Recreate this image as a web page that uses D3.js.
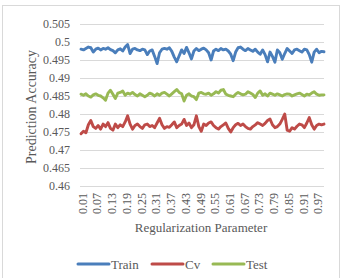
<!DOCTYPE html>
<html>
<head>
<meta charset="utf-8">
<script src="https://cdn.jsdelivr.net/npm/d3@7"></script>
<style>
  html, body { margin: 0; padding: 0; background: #fff; }
  svg text { font-family: "Liberation Serif", "Times New Roman", serif; fill: #595959; }
</style>
</head>
<body>
<div id="chart"></div>
<script>
// ---- data ----
const params = d3.range(1, 101).map(d => (d / 100).toFixed(2)); // 0.01 .. 1.00
const tickLabels = ['0.01', '0.07', '0.13', '0.19', '0.25', '0.31', '0.37', '0.43', '0.49',
  '0.55', '0.61', '0.67', '0.73', '0.79', '0.85', '0.91', '0.97'];
const yTicks = [0.46, 0.465, 0.47, 0.475, 0.48, 0.485, 0.49, 0.495, 0.5, 0.505];

const train = [
  0.4980, 0.4978, 0.4982, 0.4986, 0.4984, 0.4972, 0.4980, 0.4983, 0.4978, 0.4982,
  0.4980, 0.4984, 0.4979, 0.4976, 0.4970, 0.4978, 0.4981, 0.4975, 0.4986, 0.4993,
  0.4968, 0.4980, 0.4982, 0.4978, 0.4976, 0.4980, 0.4978, 0.4965, 0.4975, 0.4978,
  0.4960, 0.4940, 0.4970, 0.4980, 0.4982, 0.4980, 0.4984, 0.4974, 0.4958, 0.4945,
  0.4962, 0.4978, 0.4968, 0.4985, 0.4970, 0.4953, 0.4975, 0.4982, 0.4976, 0.4980,
  0.4983, 0.4978, 0.4970, 0.4950, 0.4975, 0.4980, 0.4976, 0.4982, 0.4978, 0.4980,
  0.4975, 0.4966, 0.4948, 0.4972, 0.4984, 0.4986, 0.4980, 0.4976, 0.4982, 0.4978,
  0.4974, 0.4980, 0.4972, 0.4966, 0.4978, 0.4965, 0.4945, 0.4972, 0.4960, 0.4944,
  0.4978, 0.4970, 0.4952, 0.4968, 0.4982, 0.4975, 0.4968, 0.4978, 0.4980, 0.4976,
  0.4972, 0.4980, 0.4978, 0.4965, 0.4944, 0.4972, 0.4980, 0.4970, 0.4974, 0.4973
];
const cv = [
  0.4745, 0.4752, 0.4748, 0.4770, 0.4782, 0.4765, 0.4760, 0.4768, 0.4758, 0.4772,
  0.4765, 0.4776, 0.4760, 0.4755, 0.4772, 0.4762, 0.4770, 0.4765, 0.4778, 0.4795,
  0.4772, 0.4758, 0.4768, 0.4772, 0.4765, 0.4760, 0.4770, 0.4772, 0.4765, 0.4768,
  0.4762, 0.4775, 0.4788, 0.4770, 0.4760, 0.4765, 0.4763, 0.4770, 0.4778, 0.4762,
  0.4768, 0.4772, 0.4785, 0.4768, 0.4775, 0.4762, 0.4770, 0.4795, 0.4765, 0.4752,
  0.4772, 0.4768, 0.4775, 0.4778, 0.4768, 0.4762, 0.4758, 0.4765, 0.4770, 0.4775,
  0.4760, 0.4750, 0.4762, 0.4770, 0.4774, 0.4768, 0.4772, 0.4765, 0.4760, 0.4758,
  0.4765, 0.4770, 0.4776, 0.4772, 0.4768, 0.4774, 0.4782, 0.4786, 0.4770, 0.4762,
  0.4765, 0.4772, 0.4785, 0.4800, 0.4755, 0.4752, 0.4762, 0.4758, 0.4766, 0.4772,
  0.4770, 0.4762, 0.4775, 0.4790, 0.4770, 0.4758, 0.4768, 0.4772, 0.4770, 0.4772
];
const test = [
  0.4855, 0.4852, 0.4856, 0.4850, 0.4847, 0.4853, 0.4856, 0.4852, 0.4850, 0.4845,
  0.4838, 0.4858, 0.4866, 0.4855, 0.4843, 0.4858, 0.4860, 0.4864, 0.4852, 0.4858,
  0.4855, 0.4860, 0.4854, 0.4850, 0.4856, 0.4852, 0.4848, 0.4852, 0.4858, 0.4855,
  0.4850, 0.4856, 0.4852, 0.4858, 0.4860, 0.4855, 0.4850, 0.4856, 0.4862, 0.4868,
  0.4860, 0.4856, 0.4836, 0.4852, 0.4856, 0.4850, 0.4848, 0.4840, 0.4858, 0.4860,
  0.4856, 0.4855, 0.4858, 0.4852, 0.4856, 0.4862, 0.4858, 0.4866, 0.4868, 0.4855,
  0.4852, 0.4850, 0.4848, 0.4855, 0.4860, 0.4856, 0.4853, 0.4855, 0.4862, 0.4858,
  0.4854, 0.4846, 0.4858, 0.4864, 0.4852, 0.4856, 0.4850, 0.4858, 0.4855, 0.4852,
  0.4856, 0.4853, 0.4850, 0.4854, 0.4856, 0.4855, 0.4850, 0.4853, 0.4856, 0.4858,
  0.4854, 0.4850, 0.4855, 0.4853, 0.4858, 0.4862, 0.4855, 0.4852, 0.4853, 0.4853
];
const seriesNames = ['Train', 'Cv', 'Test'];
const seriesColors = ['#4a7ebb', '#be4b48', '#98b954'];
const seriesData = [train, cv, test];

// ---- layout ----
const width = 341;
const height = 278;
const plot = { left: 80, right: 324, top: 24, bottom: 186 };

const svg = d3.select('#chart').append('svg')
  .attr('width', width)
  .attr('height', height);

// chart border
svg.append('rect')
  .attr('x', 2.5).attr('y', 5.5)
  .attr('width', 337).attr('height', 280)
  .attr('fill', '#fff')
  .attr('stroke', '#d9d9d9');

const x = d3.scalePoint().domain(params).range([plot.left + 1, plot.right]);
const y = d3.scaleLinear().domain([0.46, 0.505]).range([plot.bottom, plot.top]);

// gridlines
svg.append('g').selectAll('line')
  .data(yTicks)
  .enter().append('line')
  .attr('x1', plot.left).attr('x2', plot.right)
  .attr('y1', d => Math.round(y(d)) + 0.5)
  .attr('y2', d => Math.round(y(d)) + 0.5)
  .attr('stroke', '#d9d9d9')
  .attr('stroke-width', 1);

// y axis labels
const yAxis = svg.append('g')
  .attr('transform', `translate(${plot.left - 10},0)`)
  .attr('font-family', null)
  .call(d3.axisLeft(y).tickValues(yTicks).tickSize(0).tickFormat(d => d3.format('')(+d.toFixed(3))));
yAxis.select('.domain').remove();
yAxis.selectAll('text')
  .attr('x', 0)
  .style('font-size', '12px')
  .style('font-family', '"Liberation Serif", serif')
  .attr('fill', '#595959');

// x axis labels
const xAxis = svg.append('g')
  .attr('transform', `translate(1,${plot.bottom + 7})`)
  .call(d3.axisBottom(x).tickValues(tickLabels).tickSize(0));
xAxis.select('.domain').remove();
xAxis.selectAll('text')
  .attr('transform', 'rotate(-90)')
  .attr('x', 0).attr('y', 0)
  .attr('dx', 0).attr('dy', '0.35em')
  .attr('text-anchor', 'end')
  .style('font-size', '12px')
  .style('font-family', '"Liberation Serif", serif')
  .attr('fill', '#595959');

// lines
const line = d3.line()
  .x((d, i) => x(params[i]))
  .y(d => y(d));

svg.append('g').selectAll('path')
  .data(seriesData)
  .enter().append('path')
  .attr('d', d => line(d))
  .attr('fill', 'none')
  .attr('stroke', (d, i) => seriesColors[i])
  .attr('stroke-width', 2.9)
  .attr('stroke-linejoin', 'round')
  .attr('stroke-linecap', 'round');

// axis titles
svg.append('text')
  .attr('transform', 'translate(36,107) rotate(-90)')
  .attr('text-anchor', 'middle')
  .style('font-size', '14px')
  .text('Prediction Accuracy');

svg.append('text')
  .attr('x', 201).attr('y', 232)
  .attr('text-anchor', 'middle')
  .style('font-size', '13px')
  .text('Regularization Parameter');

// legend
const legendX = [78, 152, 213];
const legend = svg.append('g').selectAll('g')
  .data(seriesNames)
  .enter().append('g')
  .attr('transform', (d, i) => `translate(${legendX[i]},264)`);
legend.append('line')
  .attr('x1', 0).attr('x2', 31)
  .attr('stroke', (d, i) => seriesColors[i])
  .attr('stroke-width', 3)
  .attr('stroke-linecap', 'round');
legend.append('text')
  .attr('x', 33).attr('y', 0).attr('dy', '0.35em')
  .style('font-size', '13px')
  .text(d => d);
</script>
</body>
</html>
